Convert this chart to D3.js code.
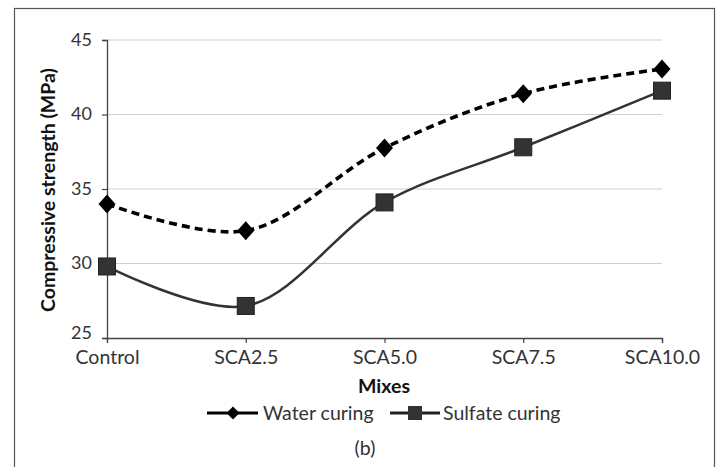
<!DOCTYPE html>
<html>
<head>
<meta charset="utf-8">
<script src="https://cdn.jsdelivr.net/npm/d3@7"></script>
<style>
  body { margin: 0; background: #fff; }
  svg { display: block; font-family: Lato, "Open Sans", sans-serif; }
</style>
</head>
<body>
<svg id="chart" width="720" height="467"></svg>
<script>
const mixes = ["Control", "SCA2.5", "SCA5.0", "SCA7.5", "SCA10.0"];
const water = [34.0, 32.2, 37.75, 41.4, 43.05];
const sulfate = [29.8, 27.15, 34.1, 37.8, 41.6];
const yTicks = [25, 30, 35, 40, 45];

const svg = d3.select("#chart");

// outer frame
svg.append("rect")
  .attr("x", 14.5).attr("y", 8.5)
  .attr("width", 700).attr("height", 470)
  .attr("fill", "none").attr("stroke", "#555").attr("stroke-width", 1.2);

const x = d3.scalePoint().domain(mixes).range([107, 662]);
const y = d3.scaleLinear().domain([25, 45]).range([338, 40]);

// gridlines
svg.append("g")
  .selectAll("line")
  .data(yTicks.slice(1))
  .join("line")
  .attr("x1", 107).attr("x2", 662)
  .attr("y1", d => y(d)).attr("y2", d => y(d))
  .attr("stroke", "#cfcfcf").attr("stroke-width", 1);

// axes
const yAxis = svg.append("g")
  .attr("transform", "translate(107,0)")
  .call(d3.axisLeft(y).tickValues(yTicks).tickSize(5).tickPadding(10));
const xAxis = svg.append("g")
  .attr("transform", "translate(0,338)")
  .call(d3.axisBottom(x).tickSize(5).tickPadding(7));

[xAxis, yAxis].forEach(a => {
  a.select(".domain").attr("stroke", "#444").attr("stroke-width", 1.3);
  a.selectAll(".tick line").attr("stroke", "#444").attr("stroke-width", 1.2);
  a.selectAll("text").attr("fill", "#333")
    .attr("font-family", "Lato, sans-serif");
});
xAxis.selectAll("text").attr("font-size", 19.5);
yAxis.selectAll("text").attr("font-size", 18)
  .attr("dy", d => d === 25 ? "0.0em" : "0.28em");

// axis titles
svg.append("text")
  .attr("transform", "translate(55,190) rotate(-90)")
  .attr("text-anchor", "middle")
  .attr("font-size", 19.5).attr("font-weight", "bold").attr("fill", "#111")
  .text("Compressive strength (MPa)");

svg.append("text")
  .attr("x", 384).attr("y", 393)
  .attr("text-anchor", "middle")
  .attr("font-size", 19.5).attr("font-weight", "bold").attr("fill", "#111")
  .text("Mixes");

const line = d3.line()
  .x((d, i) => x(mixes[i]))
  .y(d => y(d))
  .curve(d3.curveCatmullRom.alpha(0.5));

svg.append("path")
  .datum(water)
  .attr("d", line)
  .attr("fill", "none").attr("stroke", "#000")
  .attr("stroke-width", 3.6).attr("stroke-dasharray", "8,5");

svg.append("path")
  .datum(sulfate)
  .attr("d", line)
  .attr("fill", "none").attr("stroke", "#333")
  .attr("stroke-width", 2.5);

// diamonds: rotated squares, a bit taller than wide
const sq = d3.symbol().type(d3.symbolSquare).size(144);

svg.append("g")
  .selectAll("path")
  .data(water)
  .join("path")
  .attr("transform", (d, i) => `translate(${x(mixes[i])},${y(d)}) scale(1,1.12) rotate(45)`)
  .attr("d", sq)
  .attr("fill", "#000");

svg.append("g")
  .selectAll("rect")
  .data(sulfate)
  .join("rect")
  .attr("x", (d, i) => x(mixes[i]) - 8.5)
  .attr("y", d => y(d) - 8.5)
  .attr("width", 17).attr("height", 17)
  .attr("fill", "#333").attr("stroke", "#222").attr("stroke-width", 1);

// legend
const lg = svg.append("g");
lg.append("line").attr("x1", 207).attr("x2", 258).attr("y1", 413).attr("y2", 413)
  .attr("stroke", "#000").attr("stroke-width", 3);
lg.append("path").attr("transform", "translate(233,413) rotate(45)")
  .attr("d", d3.symbol().type(d3.symbolSquare).size(85)).attr("fill", "#000");
lg.append("text").attr("x", 263).attr("y", 420)
  .attr("font-size", 19.5).attr("fill", "#333").text("Water curing");

lg.append("line").attr("x1", 390).attr("x2", 440).attr("y1", 413).attr("y2", 413)
  .attr("stroke", "#222").attr("stroke-width", 3);
lg.append("rect").attr("x", 408).attr("y", 406).attr("width", 14).attr("height", 14)
  .attr("fill", "#333");
lg.append("text").attr("x", 443).attr("y", 420)
  .attr("font-size", 19.5).attr("fill", "#333").text("Sulfate curing");

svg.append("text")
  .attr("x", 365).attr("y", 455)
  .attr("text-anchor", "middle")
  .attr("font-size", 19.5).attr("fill", "#333")
  .text("(b)");
</script>
</body>
</html>
